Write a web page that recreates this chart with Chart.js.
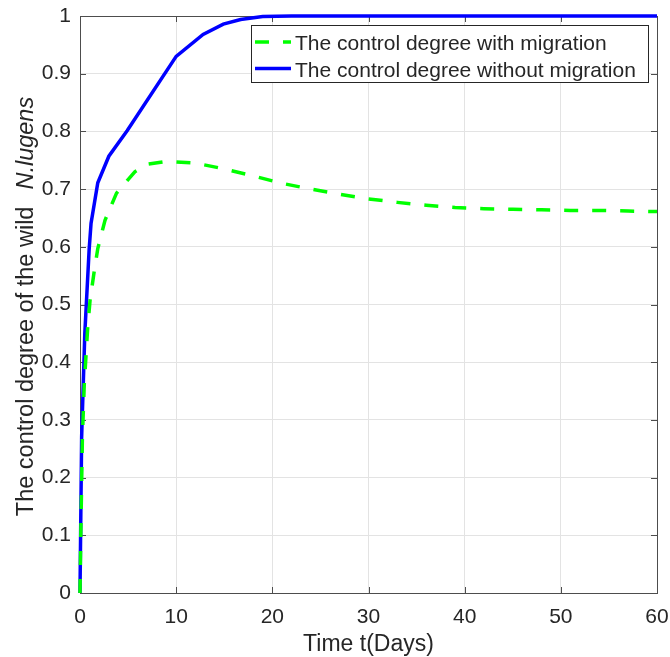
<!DOCTYPE html>
<html>
<head>
<meta charset="utf-8">
<title>Control degree of N.lugens</title>
<script src="https://cdn.jsdelivr.net/npm/chart.js@4.4.0/dist/chart.umd.min.js"></script>
<style>
    html, body { margin: 0; padding: 0; background: #ffffff; }
    canvas { display: block; }
</style>
</head>
<body>
<canvas id="control-chart" width="670" height="657"></canvas>
<script>
// time points (days) and control degree for each scenario
const migrationDays = [0, 0.1, 0.25, 0.45, 0.62, 0.8, 1.05, 1.5, 1.85, 2.6, 3.8, 5.7, 7, 9, 12, 15, 18, 21, 24, 27, 30, 33, 36, 39, 42, 45, 48, 51, 54, 57, 60];
const migrationValues = [0, 0.12, 0.27, 0.364, 0.41, 0.46, 0.508, 0.56, 0.597, 0.646, 0.693, 0.730, 0.743, 0.748, 0.745, 0.735, 0.723, 0.710, 0.700, 0.691, 0.683, 0.677, 0.672, 0.668, 0.666, 0.665, 0.664, 0.663, 0.663, 0.662, 0.661];

const noMigrationDays = [0, 0.17, 0.5, 0.95, 1.15, 1.85, 3, 4.9, 10, 12.8, 14.9, 16.7, 19, 22, 30, 40, 50, 60];
const noMigrationValues = [0, 0.27, 0.45, 0.595, 0.641, 0.711, 0.757, 0.801, 0.93, 0.968, 0.986, 0.994, 0.999, 1, 1, 1, 1, 1];

const seriesLabels = ['The control degree with migration', 'The control degree without migration'];
const xTicks = [0, 10, 20, 30, 40, 50, 60];
const yTicks = [0, 0.1, 0.2, 0.3, 0.4, 0.5, 0.6, 0.7, 0.8, 0.9, 1];

const FONT = '"Liberation Sans", Arial, Helvetica, sans-serif';
const TEXT_COLOR = '#262626';
const AXIS_COLOR = '#4d4d4d';

function toPoints(xs, ys) {
    return xs.map((x, i) => ({ x: x, y: ys[i] }));
}

// box around the plot with inward tick marks on all four sides
const axesBox = {
    id: 'axesBox',
    beforeDatasetsDraw(chart) {
        const { ctx, chartArea: a, scales } = chart;
        const len = 6;
        ctx.save();
        ctx.strokeStyle = AXIS_COLOR;
        ctx.lineWidth = 1;
        ctx.beginPath();
        xTicks.forEach(v => {
            const px = Math.round(scales.x.getPixelForValue(v)) + 0.5;
            ctx.moveTo(px, a.bottom); ctx.lineTo(px, a.bottom - len);
            ctx.moveTo(px, a.top); ctx.lineTo(px, a.top + len);
        });
        yTicks.forEach(v => {
            const py = Math.round(scales.y.getPixelForValue(v)) + 0.5;
            ctx.moveTo(a.left, py); ctx.lineTo(a.left + len, py);
            ctx.moveTo(a.right, py); ctx.lineTo(a.right - len, py);
        });
        ctx.stroke();
        ctx.strokeRect(Math.round(a.left) + 0.5, Math.round(a.top) + 0.5,
            Math.round(a.right - a.left), Math.round(a.bottom - a.top));
        ctx.restore();
    }
};

// axis titles; the species name on the y title is set in italics
const axisTitles = {
    id: 'axisTitles',
    afterDraw(chart) {
        const { ctx, chartArea: a } = chart;
        ctx.save();
        ctx.fillStyle = TEXT_COLOR;
        ctx.textBaseline = 'alphabetic';

        ctx.font = '23px ' + FONT;
        ctx.textAlign = 'center';
        ctx.fillText('Time t(Days)', (a.left + a.right) / 2, 651);

        const plain = 'The control degree of the wild';
        const italic = 'N.lugens';
        const gap = 17;
        ctx.font = '23.5px ' + FONT;
        const w1 = ctx.measureText(plain).width;
        ctx.font = 'italic 23.5px ' + FONT;
        const w2 = ctx.measureText(italic).width;
        const total = w1 + gap + w2;
        ctx.translate(33, (a.top + a.bottom) / 2 + 2);
        ctx.rotate(-Math.PI / 2);
        ctx.textAlign = 'left';
        ctx.font = '23.5px ' + FONT;
        ctx.fillText(plain, -total / 2, 0);
        ctx.font = 'italic 23.5px ' + FONT;
        ctx.fillText(italic, -total / 2 + w1 + gap, 0);
        ctx.restore();
    }
};

// boxed legend in the upper right corner of the plot
const boxedLegend = {
    id: 'boxedLegend',
    afterDraw(chart) {
        const { ctx } = chart;
        const box = { x: 251.5, y: 25.5, w: 397, h: 57 };
        ctx.save();
        ctx.fillStyle = '#ffffff';
        ctx.fillRect(box.x, box.y, box.w, box.h);
        ctx.strokeStyle = TEXT_COLOR;
        ctx.lineWidth = 1;
        ctx.strokeRect(box.x, box.y, box.w, box.h);

        const rows = [42, 68.5];
        chart.data.datasets.forEach((ds, i) => {
            const y = rows[i];
            ctx.strokeStyle = ds.borderColor;
            ctx.lineWidth = ds.borderWidth;
            ctx.setLineDash(ds.borderDash || []);
            ctx.beginPath();
            ctx.moveTo(255, y);
            ctx.lineTo(291, y);
            ctx.stroke();
            ctx.setLineDash([]);
            ctx.fillStyle = TEXT_COLOR;
            ctx.font = '21px ' + FONT;
            ctx.textAlign = 'left';
            ctx.textBaseline = 'alphabetic';
            ctx.fillText(ds.label, 295, y + 8);
        });
        ctx.restore();
    }
};

function drawChart() {
    const ctx = document.getElementById('control-chart').getContext('2d');
    const data = {
        datasets: [{
            label: seriesLabels[0],
            data: toPoints(migrationDays, migrationValues),
            borderColor: '#00ff00',
            borderWidth: 3.5,
            borderDash: [14, 14],
            pointRadius: 0,
            tension: 0,
            clip: 5
        }, {
            label: seriesLabels[1],
            data: toPoints(noMigrationDays, noMigrationValues),
            borderColor: '#0000ff',
            borderWidth: 3.5,
            pointRadius: 0,
            tension: 0,
            clip: 5
        }]
    };
    const config = {
        type: 'line',
        data: data,
        options: {
            responsive: false,
            animation: false,
            devicePixelRatio: 1,
            events: [],
            layout: { padding: { top: 16, right: 13, left: 0, bottom: 0 } },
            plugins: {
                legend: { display: false },
                tooltip: { enabled: false }
            },
            scales: {
                x: {
                    type: 'linear',
                    min: 0,
                    max: 60,
                    afterFit: s => {
                        s.height = 64;
                        s.paddingLeft = 0;
                        s.paddingRight = 0;
                    },
                    afterBuildTicks: s => { s.ticks = xTicks.map(v => ({ value: v })); },
                    ticks: {
                        padding: 12,
                        color: TEXT_COLOR,
                        font: { family: FONT, size: 21 },
                        maxRotation: 0,
                        callback: v => String(v)
                    },
                    grid: { color: '#e3e3e3', lineWidth: 1, drawTicks: false },
                    border: { display: false }
                },
                y: {
                    type: 'linear',
                    min: 0,
                    max: 1,
                    afterFit: s => {
                        s.width = 80;
                        s.paddingTop = 0;
                        s.paddingBottom = 0;
                    },
                    afterBuildTicks: s => { s.ticks = yTicks.map(v => ({ value: v })); },
                    ticks: {
                        padding: 9,
                        color: TEXT_COLOR,
                        font: { family: FONT, size: 21 },
                        callback: v => String(+v.toFixed(1))
                    },
                    grid: { color: '#e3e3e3', lineWidth: 1, drawTicks: false },
                    border: { display: false }
                }
            }
        },
        plugins: [axesBox, axisTitles, boxedLegend]
    };
    new Chart(ctx, config);
}

document.addEventListener('DOMContentLoaded', () => {
    drawChart();
});
</script>
</body>
</html>
